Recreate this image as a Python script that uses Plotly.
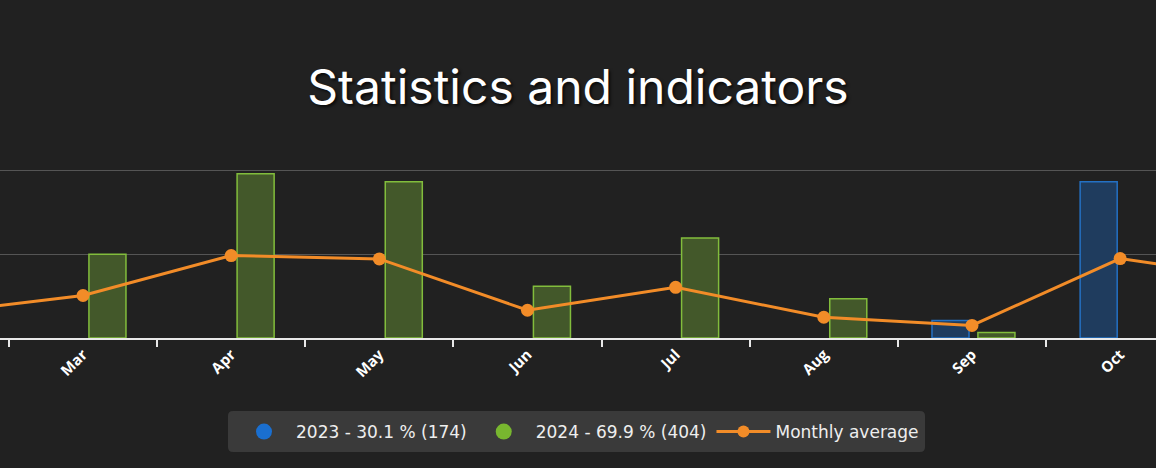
import plotly.graph_objects as go

months = ["Feb", "Mar", "Apr", "May", "Jun", "Jul", "Aug", "Sep", "Oct", "Nov"]
values_2023 = [None, None, None, None, None, None, None, 10.4, 93.4, None]
values_2024 = [None, 50, 98.2, 93.4, 30.9, 59.8, 23.4, 3.3, None, None]
monthly_avg = [14.7, 25.4, 49.3, 47.3, 16.6, 30.3, 12.4, 7.5, 47.5, 34.9]

label_2023 = "2023 - 30.1 % (174)"
label_2024 = "2024 - 69.9 % (404)"
label_avg = "Monthly average"

BG = "#212121"
BLUE = "#1a6fd0"
GREEN = "#78b72f"
ORANGE = "#f28c28"

W, H = 1156, 468
M_T, M_B = 154, 130
PLOT_H = H - M_T - M_B

fig = go.Figure()

fig.add_trace(go.Bar(
    x=months, y=values_2023, name=label_2023, showlegend=False,
    offset=-0.27, width=0.25,
    marker=dict(color="#1f3c5e", line=dict(color="#2471c4", width=1.5)),
))
fig.add_trace(go.Bar(
    x=months, y=values_2024, name=label_2024, showlegend=False,
    offset=0.04, width=0.25,
    marker=dict(color="#43582a", line=dict(color="#82bd3c", width=1.5)),
))
fig.add_trace(go.Scatter(
    x=months, y=monthly_avg, name=label_avg, mode="lines+markers",
    line=dict(color=ORANGE, width=3), marker=dict(color=ORANGE, size=13),
    showlegend=False,
))

# legend-only entries
fig.add_trace(go.Scatter(x=[None], y=[None], mode="markers", name=label_2023,
                         marker=dict(color=BLUE, size=16, symbol="circle")))
fig.add_trace(go.Scatter(x=[None], y=[None], mode="markers", name=label_2024,
                         marker=dict(color=GREEN, size=16, symbol="circle")))
fig.add_trace(go.Scatter(x=[None], y=[None], mode="lines+markers", name=label_avg,
                         line=dict(color=ORANGE, width=3), marker=dict(color=ORANGE, size=12)))

# rounded legend background (pixel box converted to paper coords)
def px(x):
    return x / W

def py(y):
    return (H - M_B - y) / PLOT_H

bx0, bx1, by0, by1, r = 228, 925, 411, 452, 5
path = (
    f"M {px(bx0 + r)} {py(by0)} L {px(bx1 - r)} {py(by0)} "
    f"Q {px(bx1)} {py(by0)} {px(bx1)} {py(by0 + r)} "
    f"L {px(bx1)} {py(by1 - r)} "
    f"Q {px(bx1)} {py(by1)} {px(bx1 - r)} {py(by1)} "
    f"L {px(bx0 + r)} {py(by1)} "
    f"Q {px(bx0)} {py(by1)} {px(bx0)} {py(by1 - r)} "
    f"L {px(bx0)} {py(by0 + r)} "
    f"Q {px(bx0)} {py(by0)} {px(bx0 + r)} {py(by0)} Z"
)

fig.update_layout(
    width=W, height=H,
    paper_bgcolor=BG, plot_bgcolor=BG,
    barmode="overlay",
    margin=dict(l=0, r=0, t=M_T, b=M_B, autoexpand=False),
    title=dict(
        text="Statistics and indicators",
        x=0.5, xanchor="center", y=1 - 87 / H, yanchor="middle",
        font=dict(family="Inter", size=48, color="#ffffff",
                  shadow="2px 2px 3px rgba(0,0,0,0.7)"),
    ),
    xaxis=dict(
        type="category", range=[0.4398, 8.242],
        showgrid=False, zeroline=False,
        showline=True, linecolor="#e8e8e8", linewidth=2,
        ticks="outside", tickson="boundaries", ticklen=7, tickwidth=2,
        tickcolor="#e8e8e8", tickangle=-45,
        tickfont=dict(family="Open Sans", size=15, color="#ffffff", weight="bold"),
    ),
    yaxis=dict(
        range=[0, 110], dtick=50, showticklabels=False,
        showgrid=True, gridcolor="#555555", gridwidth=1, zeroline=False,
        fixedrange=True,
    ),
    legend=dict(
        orientation="h", x=0.5, xanchor="center",
        yref="container", y=(H - 432) / H, yanchor="middle",
        bgcolor="rgba(0,0,0,0)", borderwidth=0,
        font=dict(family="DejaVu Sans", size=17, color="#eeeeee"),
        itemsizing="trace", itemwidth=54,
    ),
    shapes=[dict(type="path", xref="paper", yref="paper", path=path,
                 fillcolor="#3a3a3a", line=dict(width=0), layer="below")],
    showlegend=True,
)

fig.write_html(
    "out.html",
    config={"displayModeBar": False},
    post_script="document.body.style.margin='0';document.body.style.overflow='hidden';",
)
